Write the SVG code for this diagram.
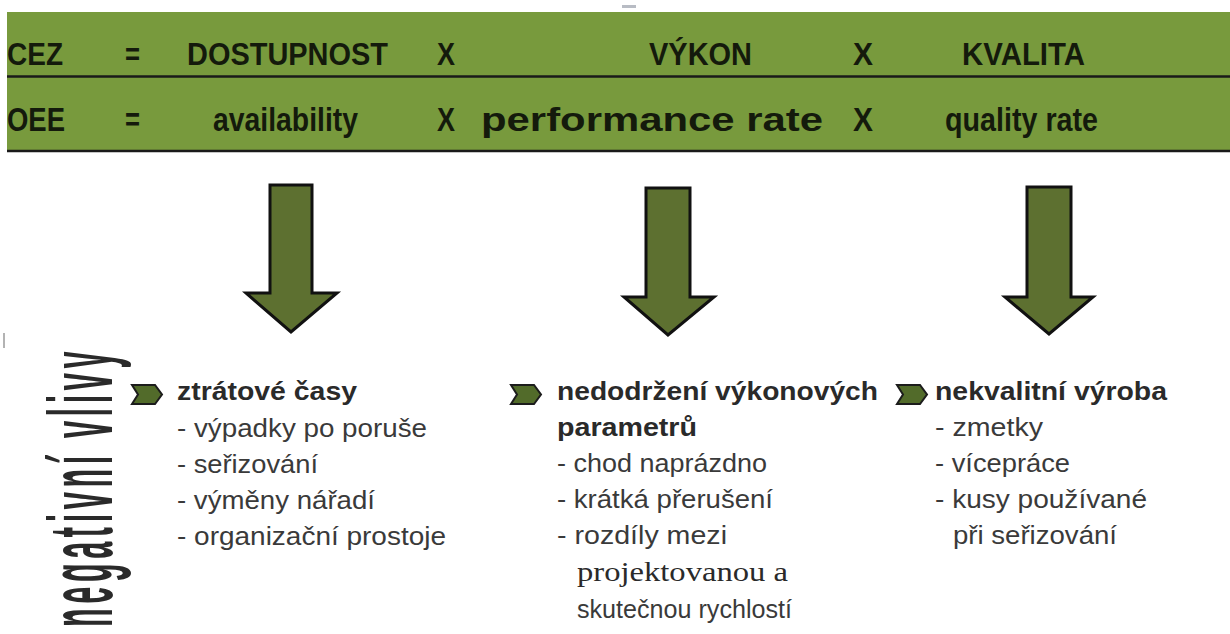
<svg xmlns="http://www.w3.org/2000/svg" width="1230" height="634" viewBox="0 0 1230 634">
<style>
  .hd { font-family: "Liberation Sans", Arial, sans-serif; font-weight: bold; fill: #141a0c; }
  .h1 { font-size: 32px; }
  .h2 { font-size: 33px; }
  .ttl { font-family: "Liberation Sans", Arial, sans-serif; font-weight: bold; font-size: 25px; fill: #2a2a2a; }
  .itm { font-family: "Liberation Sans", Arial, sans-serif; font-size: 25px; fill: #3a3a3a; }
  .ser { font-family: "Liberation Serif", "Times New Roman", serif; font-size: 28px; fill: #2a2a2a; }
  .arrow { fill: #5d7030; stroke: #111; stroke-width: 3; stroke-linejoin: miter; }
  .chev { fill: #526b2a; stroke: #1c1c1c; stroke-width: 2; stroke-linejoin: miter; }
  .rule { stroke: #1a1a1a; stroke-width: 2.5; }
  .vert { font-family: "Liberation Sans", Arial, sans-serif; font-weight: bold; font-size: 90px; fill: #2a2a2a; }
</style>
<defs>
  <path id="chevron" class="chev" d="M0,0 L23,0 L30,9.5 L23,19 L0,19 L6,9.5 Z"/>
</defs>
<rect width="1230" height="634" fill="#ffffff"/>

<!-- header band -->
<g id="header">
  <rect x="7" y="12" width="1223" height="139" fill="#789a3d"/>
  <line class="rule" x1="7" y1="76.5" x2="1230" y2="76.5"/>
  <line class="rule" x1="7" y1="151" x2="1230" y2="151"/>
  <rect x="622" y="5" width="14" height="3" fill="#b8bcc4"/>
  <text class="hd h1" x="7" y="65" textLength="56" lengthAdjust="spacingAndGlyphs">CEZ</text>
  <text class="hd h1" x="125" y="65" textLength="15" lengthAdjust="spacingAndGlyphs">=</text>
  <text class="hd h1" x="187" y="65" textLength="201" lengthAdjust="spacingAndGlyphs">DOSTUPNOST</text>
  <text class="hd h1" x="437" y="65" textLength="18" lengthAdjust="spacingAndGlyphs">X</text>
  <text class="hd h1" x="649" y="65" textLength="103" lengthAdjust="spacingAndGlyphs">VÝKON</text>
  <text class="hd h1" x="853" y="65" textLength="20" lengthAdjust="spacingAndGlyphs">X</text>
  <text class="hd h1" x="962" y="65" textLength="123" lengthAdjust="spacingAndGlyphs">KVALITA</text>
  <text class="hd h2" x="7" y="131" textLength="58" lengthAdjust="spacingAndGlyphs">OEE</text>
  <text class="hd h2" x="125" y="131" textLength="15" lengthAdjust="spacingAndGlyphs">=</text>
  <text class="hd h2" x="213" y="131" textLength="145" lengthAdjust="spacingAndGlyphs">availability</text>
  <text class="hd h2" x="437" y="131" textLength="18" lengthAdjust="spacingAndGlyphs">X</text>
  <text class="hd h2" x="481" y="131" textLength="342" lengthAdjust="spacingAndGlyphs">performance rate</text>
  <text class="hd h2" x="853" y="131" textLength="20" lengthAdjust="spacingAndGlyphs">X</text>
  <text class="hd h2" x="945" y="131" textLength="153" lengthAdjust="spacingAndGlyphs">quality rate</text>
</g>

<!-- connectors: the three big down arrows -->
<g id="connectors">
  <polygon class="arrow" points="270,185 312,185 312,293 337,293 291,332 246,293 270,293"/>
  <polygon class="arrow" points="646,188 690,188 690,297 714,297 668,335 624,297 646,297"/>
  <polygon class="arrow" points="1027,187 1071,187 1071,297 1093,297 1049,334 1005,297 1027,297"/>
</g>

<!-- vertical label -->
<g id="label-negativni-vlivy">
  <line x1="4" y1="333" x2="4" y2="348" stroke="#9a9a9a" stroke-width="1.5"/>
  <text class="vert" transform="translate(112,627) rotate(-90) scale(0.34,1)" x="0" y="0" textLength="810" lengthAdjust="spacing">negativní vlivy</text>
</g>

<!-- column 1 -->
<g id="node-ztratove-casy">
  <use href="#chevron" x="132" y="385"/>
  <text class="ttl" x="177" y="400" textLength="180" lengthAdjust="spacingAndGlyphs">ztrátové časy</text>
  <text class="itm" x="177" y="437" textLength="250" lengthAdjust="spacingAndGlyphs">- výpadky po poruše</text>
  <text class="itm" x="177" y="473" textLength="141" lengthAdjust="spacingAndGlyphs">- seřizování</text>
  <text class="itm" x="177" y="509" textLength="198" lengthAdjust="spacingAndGlyphs">- výměny nářadí</text>
  <text class="itm" x="177" y="545" textLength="269" lengthAdjust="spacingAndGlyphs">- organizační prostoje</text>
</g>

<!-- column 2 -->
<g id="node-nedodrzeni">
  <use href="#chevron" x="511" y="385"/>
  <text class="ttl" x="557" y="400" textLength="321" lengthAdjust="spacingAndGlyphs">nedodržení výkonových</text>
  <text class="ttl" x="557" y="436" textLength="140" lengthAdjust="spacingAndGlyphs">parametrů</text>
  <text class="itm" x="557" y="472" textLength="210" lengthAdjust="spacingAndGlyphs">- chod naprázdno</text>
  <text class="itm" x="557" y="508" textLength="216" lengthAdjust="spacingAndGlyphs">- krátká přerušení</text>
  <text class="itm" x="557" y="544" textLength="170" lengthAdjust="spacingAndGlyphs">- rozdíly mezi</text>
  <text class="ser" x="577" y="581" textLength="211" lengthAdjust="spacingAndGlyphs">projektovanou a</text>
  <text class="itm" x="577" y="618" textLength="215" lengthAdjust="spacingAndGlyphs">skutečnou rychlostí</text>
</g>

<!-- column 3 -->
<g id="node-nekvalitni-vyroba">
  <use href="#chevron" x="897" y="385"/>
  <text class="ttl" x="935" y="400" textLength="232" lengthAdjust="spacingAndGlyphs">nekvalitní výroba</text>
  <text class="itm" x="935" y="436" textLength="108" lengthAdjust="spacingAndGlyphs">- zmetky</text>
  <text class="itm" x="935" y="472" textLength="135" lengthAdjust="spacingAndGlyphs">- vícepráce</text>
  <text class="itm" x="935" y="508" textLength="212" lengthAdjust="spacingAndGlyphs">- kusy používané</text>
  <text class="itm" x="953" y="544" textLength="164" lengthAdjust="spacingAndGlyphs">při seřizování</text>
</g>
</svg>
